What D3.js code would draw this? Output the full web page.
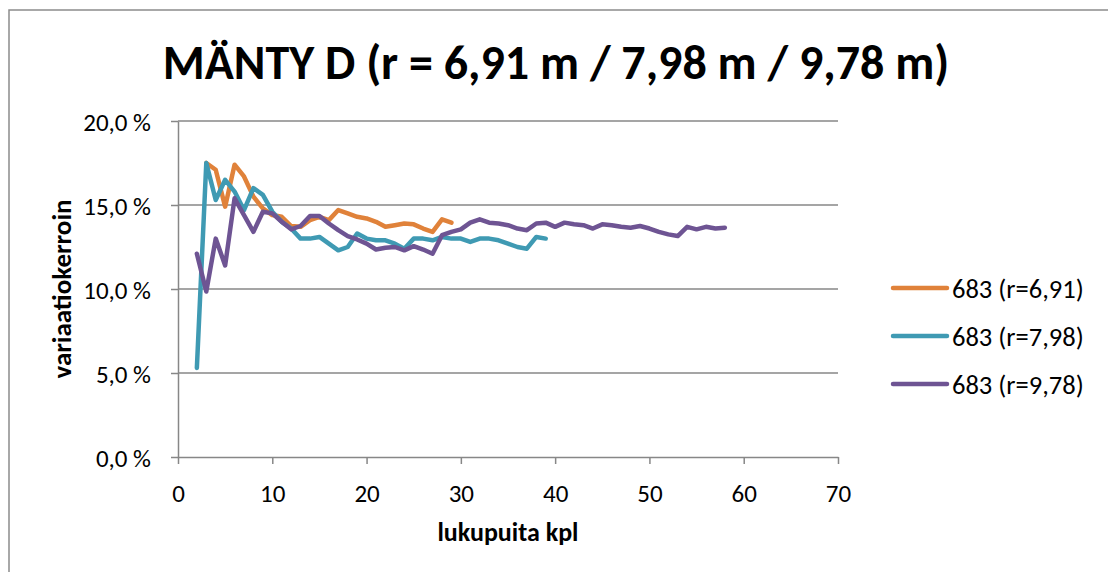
<!DOCTYPE html>
<html>
<head>
    <meta charset="utf-8">
    <title>MÄNTY D</title>
    <script src="https://cdn.jsdelivr.net/npm/d3@7/dist/d3.min.js"></script>
    <style>
        body { margin: 0; background: #fff; }
        text { font-family: Carlito, Calibri, Lato, sans-serif; fill: #000; }
    </style>
</head>
<body>
<script type="text/javascript">
    // ---- data ----
    var title = "MÄNTY D (r = 6,91 m / 7,98 m / 9,78 m)";
    var xLabel = "lukupuita kpl",
        yLabel = "variaatiokerroin";
    var seriesNames = ["683 (r=6,91)", "683 (r=7,98)", "683 (r=9,78)"];
    var seriesColors = ["#e0823a", "#3f9ab3", "#6e5493"];
    var xTicks = [0, 10, 20, 30, 40, 50, 60, 70];
    var yTicks = [0, 5, 10, 15, 20];

    // first tree count of each series, values in %
    var start691 = 3;
    var cv691 = [17.5, 17.1, 14.9, 17.4, 16.7, 15.5, 14.8, 14.4, 14.3, 13.75,
        13.7, 14.1, 14.3, 14.1, 14.7, 14.5, 14.3, 14.2, 14.0, 13.7,
        13.8, 13.9, 13.85, 13.6, 13.4, 14.15, 13.95];
    var start798 = 2;
    var cv798 = [5.3, 17.5, 15.3, 16.5, 15.8, 14.7, 16.0, 15.6, 14.6, 14.0,
        13.6, 13.0, 13.0, 13.1, 12.7, 12.3, 12.5, 13.3, 13.0, 12.9,
        12.9, 12.7, 12.4, 13.0, 13.0, 12.9, 13.1, 13.0, 13.0, 12.8,
        13.0, 13.0, 12.9, 12.7, 12.5, 12.4, 13.1, 13.0];
    var start978 = 2;
    var cv978 = [12.1, 9.85, 13.0, 11.4, 15.4, 14.4, 13.4, 14.6, 14.5, 14.0,
        13.55, 13.75, 14.35, 14.35, 13.9, 13.5, 13.15, 12.95, 12.7, 12.35,
        12.45, 12.5, 12.3, 12.55, 12.35, 12.1, 13.2, 13.4, 13.55, 13.95,
        14.15, 13.95, 13.9, 13.8, 13.6, 13.5, 13.9, 13.95, 13.7, 13.95,
        13.85, 13.8, 13.6, 13.85, 13.8, 13.7, 13.65, 13.75, 13.6, 13.4,
        13.25, 13.15, 13.7, 13.55, 13.7, 13.6, 13.65];

    var series = [
        { name: seriesNames[0], color: seriesColors[0], start: start691, values: cv691 },
        { name: seriesNames[1], color: seriesColors[1], start: start798, values: cv798 },
        { name: seriesNames[2], color: seriesColors[2], start: start978, values: cv978 }
    ];

    var width = 1108, height = 572;
    var plot = { left: 178, right: 838, top: 121, bottom: 457 };
    var gridColor = "#878787";

    var svg = d3.select("body").append("svg")
        .attr("width", width)
        .attr("height", height);

    // chart frame (only top and left edges are inside the window)
    svg.append("path")
        .attr("d", "M9," + height + "V10H" + width)
        .attr("fill", "none")
        .attr("stroke", "#8c8c8c")
        .attr("stroke-width", 1.5);

    var x = d3.scaleLinear().domain([0, 70]).range([plot.left, plot.right]);
    var y = d3.scaleLinear().domain([0, 20]).range([plot.bottom, plot.top]);

    var pct = function(d) { return d3.format(".1f")(d).replace(".", ",") + " %"; };

    // horizontal gridlines
    svg.append("g").selectAll("line")
        .data(yTicks.filter(function(d) { return d > 0; }))
        .enter().append("line")
        .attr("x1", plot.left).attr("x2", plot.right)
        .attr("y1", function(d) { return y(d); })
        .attr("y2", function(d) { return y(d); })
        .attr("stroke", gridColor)
        .attr("stroke-width", 1.5);

    var yAxis = d3.axisLeft(y).tickValues(yTicks).tickFormat(pct)
        .tickSize(7).tickSizeOuter(0).tickPadding(20);
    var gy = svg.append("g")
        .attr("class", "y-axis")
        .attr("transform", "translate(" + plot.left + ",0)")
        .call(yAxis);

    var xAxis = d3.axisBottom(x).tickValues(xTicks)
        .tickSize(7).tickSizeOuter(0).tickPadding(20);
    var gx = svg.append("g")
        .attr("class", "x-axis")
        .attr("transform", "translate(0," + plot.bottom + ")")
        .call(xAxis);

    svg.selectAll(".domain, .tick line")
        .attr("stroke", gridColor)
        .attr("stroke-width", 1.5);
    svg.selectAll(".tick text")
        .attr("font-family", null)
        .style("font-size", "25px")
        .attr("fill", "#000");
    gy.selectAll(".tick text").attr("dy", "0.36em");

    // lines
    series.forEach(function(s) {
        var ln = d3.line()
            .x(function(d, i) { return x(s.start + i); })
            .y(function(d) { return y(d); });
        svg.append("path")
            .datum(s.values)
            .attr("d", ln)
            .attr("fill", "none")
            .attr("stroke", s.color)
            .attr("stroke-width", 4.5)
            .attr("stroke-linejoin", "round")
            .attr("stroke-linecap", "round");
    });

    // title
    svg.append("text")
        .attr("x", 556).attr("y", 79)
        .attr("text-anchor", "middle")
        .style("font-size", "48px")
        .style("font-weight", "bold")
        .text(title);

    // axis titles
    svg.append("text")
        .attr("x", (plot.left + plot.right) / 2).attr("y", 541)
        .attr("text-anchor", "middle")
        .style("font-size", "26px")
        .style("font-weight", "bold")
        .text(xLabel);

    svg.append("text")
        .attr("transform", "translate(71," + (plot.top + plot.bottom) / 2 + ") rotate(-90)")
        .attr("text-anchor", "middle")
        .style("font-size", "27px")
        .style("font-weight", "bold")
        .text(yLabel);

    // legend
    var legend = svg.append("g").attr("transform", "translate(893,288)");
    var item = legend.selectAll("g")
        .data(series)
        .enter().append("g")
        .attr("transform", function(d, i) { return "translate(0," + i * 48 + ")"; });
    item.append("line")
        .attr("x1", 0).attr("x2", 54)
        .attr("stroke", function(d) { return d.color; })
        .attr("stroke-width", 4.5)
        .attr("stroke-linecap", "round");
    item.append("text")
        .attr("x", 59).attr("dy", "0.36em")
        .style("font-size", "26.5px")
        .text(function(d) { return d.name; });
</script>
</body>
</html>
